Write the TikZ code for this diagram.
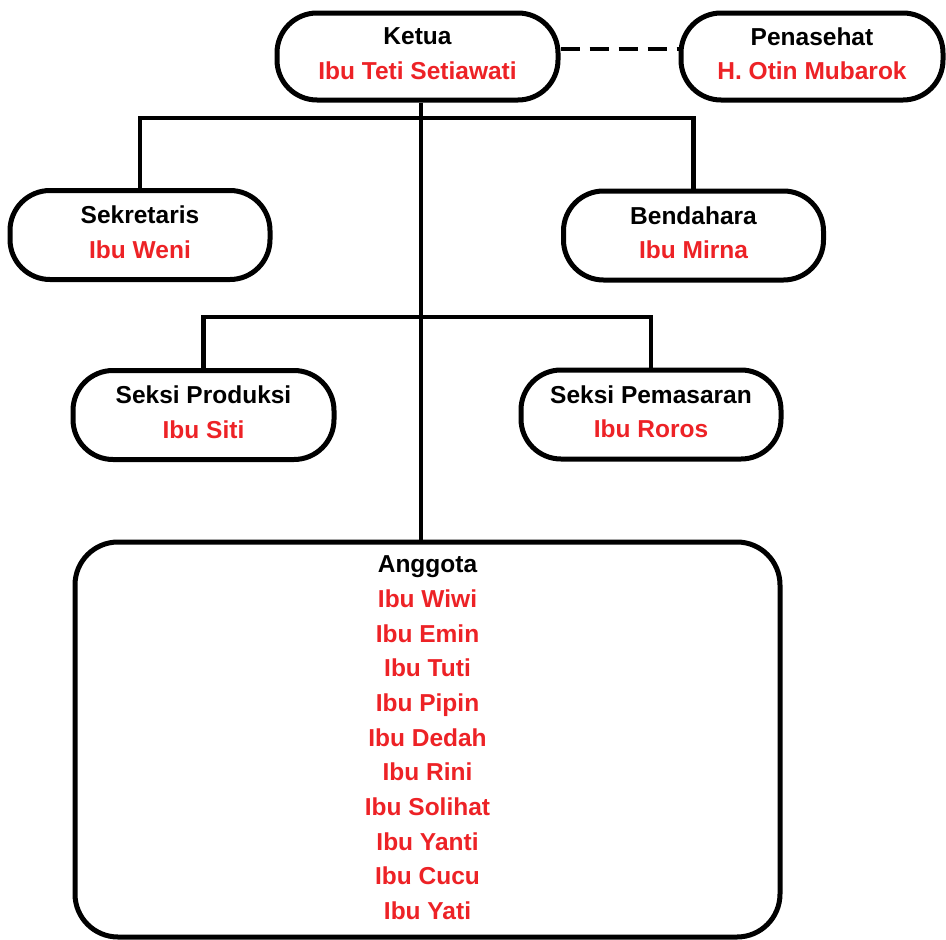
\documentclass[tikz,border=0pt]{standalone}
\usepackage{fontspec}
\setmainfont{Liberation Sans}
\usetikzlibrary{calc}
\definecolor{namared}{RGB}{237,34,38}
\tikzset{
  jabatan/.style={draw,line width=5pt,rounded corners=40pt,minimum width=260pt,minimum height=89pt,
    align=center,text depth=6pt,font=\fontsize{24.5pt}{34.7pt}\selectfont\bfseries},
  garis/.style={line width=4.5pt},
}

\begin{document}
\begin{tikzpicture}[x=1pt,y=-1pt]
      \useasboundingbox (0,0) rectangle (946,940);
      \node[jabatan,minimum width=281pt,minimum height=87pt] (ketua) at (417.5,56.5) {Ketua\\\textcolor{namared}{Ibu Teti Setiawati}};
      \node[jabatan,minimum width=262pt,minimum height=87pt] (penasehat) at (812,56.5) {Penasehat\\\textcolor{namared}{H. Otin Mubarok}};
      \node[jabatan] (sekretaris) at (140,235) {Sekretaris\\\textcolor{namared}{Ibu Weni}};
      \node[jabatan] (bendahara) at (693.5,235.5) {Bendahara\\\textcolor{namared}{Ibu Mirna}};
      \node[jabatan,minimum width=261pt] (produksi) at (203.5,415) {Seksi Produksi\\\textcolor{namared}{Ibu Siti}};
      \node[jabatan] (pemasaran) at (651,414.5) {Seksi Pemasaran\\\textcolor{namared}{Ibu Roros}};
      \node[jabatan,rounded corners=43pt,minimum width=705pt,minimum height=395pt,text depth=3.5pt] (anggota) at (427.5,739.5)
        {Anggota\\\textcolor{namared}{Ibu Wiwi}\\\textcolor{namared}{Ibu Emin}\\\textcolor{namared}{Ibu Tuti}\\
         \textcolor{namared}{Ibu Pipin}\\\textcolor{namared}{Ibu Dedah}\\\textcolor{namared}{Ibu Rini}\\
         \textcolor{namared}{Ibu Solihat}\\\textcolor{namared}{Ibu Yanti}\\\textcolor{namared}{Ibu Cucu}\\
         \textcolor{namared}{Ibu Yati}};
      % garis
      \coordinate (cabang1) at (421,118);
      \coordinate (cabang2) at (421,317);
      \draw[garis,dash pattern=on 19pt off 10pt] ([yshift=7.5pt]ketua.east) -- ([yshift=7.5pt]penasehat.west);
      \draw[garis] (ketua.south -| cabang1) -- (anggota.north -| cabang1);
      \draw[garis] (sekretaris.north) |- (cabang1) -| (bendahara.north);
      \draw[garis] (produksi.north) |- (cabang2) -| (pemasaran.north);
    \end{tikzpicture}
\end{document}
